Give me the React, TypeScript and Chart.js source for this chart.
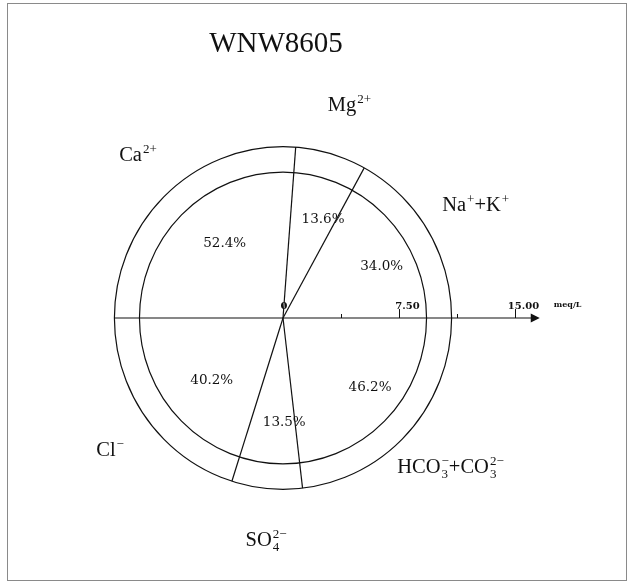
import React, { useEffect, useRef } from 'react';
import { Chart, registerables } from 'chart.js';

Chart.register(...registerables);

// ---------- data ----------
const chartTitle = 'WNW8605';
type Seg = { t?: string; sup?: string; sub?: string };
const cationLabels: Seg[][] = [
  [{ t: 'Ca' }, { sup: '2+' }],
  [{ t: 'Mg' }, { sup: '2+' }],
  [{ t: 'Na' }, { sup: '+' }, { t: '+K' }, { sup: '+' }],
];
const cationPercents = [52.4, 13.6, 34.0];
const anionLabels: Seg[][] = [
  [{ t: 'Cl' }, { sup: '−' }],
  [{ t: 'SO' }, { sub: '4', sup: '2−' }],
  [{ t: 'HCO' }, { sub: '3', sup: '−' }, { t: '+CO' }, { sub: '3', sup: '2−' }],
];
const anionPercents = [40.2, 13.5, 46.2];
const innerTotal = 9.28; // meq/L (inner circle radius)
const outerTotal = 10.9; // meq/L (outer circle radius)
const axisTicks = [3.75, 7.5, 11.25, 15];
const axisTickLabels = ['', '7.50', '', '15.00'];
const axisEnd = 16.6;
const unitLabel = 'meq/L';

// ---------- drawing helpers ----------
const SERIF = "'Liberation Serif', serif";
const SMALL_RATIO = 0.65;

function richWidth(ctx: CanvasRenderingContext2D, segs: Seg[], size: number) {
  const small = Math.round(size * SMALL_RATIO);
  let w = 0;
  for (const s of segs) {
    if (s.t) {
      ctx.font = `${size}px ${SERIF}`;
      w += ctx.measureText(s.t).width;
    } else {
      ctx.font = `${small}px ${SERIF}`;
      w += Math.max(s.sup ? ctx.measureText(s.sup).width : 0, s.sub ? ctx.measureText(s.sub).width : 0) + 1;
    }
  }
  return w;
}

function drawRich(ctx: CanvasRenderingContext2D, segs: Seg[], cx: number, cy: number, size: number) {
  const small = Math.round(size * SMALL_RATIO);
  const W = richWidth(ctx, segs, size);
  let x = cx - W / 2;
  const base = cy + size * 0.33;
  ctx.textAlign = 'left';
  ctx.textBaseline = 'alphabetic';
  for (const s of segs) {
    if (s.t) {
      ctx.font = `${size}px ${SERIF}`;
      ctx.fillText(s.t, x, base);
      x += ctx.measureText(s.t).width;
    } else {
      ctx.font = `${small}px ${SERIF}`;
      let w = 0;
      if (s.sup) {
        ctx.fillText(s.sup, x + 1, base - size * 0.4);
        w = Math.max(w, ctx.measureText(s.sup).width);
      }
      if (s.sub) {
        ctx.fillText(s.sub, x + 1, base + size * 0.24);
        w = Math.max(w, ctx.measureText(s.sub).width);
      }
      x += w + 1;
    }
  }
}

const ionPlugin = {
  id: 'ionCircle',
  afterDraw(chart: any) {
    const ctx: CanvasRenderingContext2D = chart.ctx;
    const xs = chart.scales.x;
    const ys = chart.scales.y;
    const P = (r: number, deg: number) => {
      const a = (deg * Math.PI) / 180;
      return [xs.getPixelForValue(r * Math.cos(a)), ys.getPixelForValue(r * Math.sin(a))];
    };
    const cx = xs.getPixelForValue(0);
    const cy = ys.getPixelForValue(0);
    ctx.save();

    // frame
    ctx.strokeStyle = '#8a8a8a';
    ctx.lineWidth = 1;
    ctx.strokeRect(7.5, 3.5, 619, 577);

    // title
    ctx.fillStyle = '#111';
    ctx.font = `29px ${SERIF}`;
    ctx.textAlign = 'center';
    ctx.textBaseline = 'alphabetic';
    ctx.fillText(chartTitle, 276, 52);

    // circles
    ctx.strokeStyle = '#111';
    ctx.lineWidth = 1.2;
    for (const r of [innerTotal, outerTotal]) {
      const rx = Math.abs(xs.getPixelForValue(r) - cx);
      const ry = Math.abs(ys.getPixelForValue(r) - cy);
      ctx.beginPath();
      ctx.ellipse(cx, cy, rx, ry, 0, 0, Math.PI * 2);
      ctx.stroke();
    }

    // sectors
    const sectors: { mid: number; pct: number; label: Seg[] }[] = [];
    let cum = 0;
    cationPercents.forEach((p, i) => {
      const start = 180 - cum * 1.8;
      cum += p;
      const end = 180 - cum * 1.8;
      sectors.push({ mid: (start + end) / 2, pct: p, label: cationLabels[i] });
      if (i < cationPercents.length - 1) {
        const [x, y] = P(outerTotal, end);
        ctx.beginPath();
        ctx.moveTo(cx, cy);
        ctx.lineTo(x, y);
        ctx.stroke();
      }
    });
    cum = 0;
    anionPercents.forEach((p, i) => {
      const start = 180 + cum * 1.8;
      cum += p;
      const end = 180 + cum * 1.8;
      sectors.push({ mid: (start + end) / 2, pct: p, label: anionLabels[i] });
      if (i < anionPercents.length - 1) {
        const [x, y] = P(outerTotal, end);
        ctx.beginPath();
        ctx.moveTo(cx, cy);
        ctx.lineTo(x, y);
        ctx.stroke();
      }
    });

    // axis
    ctx.lineWidth = 1.2;
    const [ax0] = P(outerTotal, 180);
    const ax1 = xs.getPixelForValue(axisEnd);
    ctx.beginPath();
    ctx.moveTo(ax0, cy);
    ctx.lineTo(ax1 - 6, cy);
    ctx.stroke();
    ctx.fillStyle = '#111';
    ctx.beginPath();
    ctx.moveTo(ax1, cy);
    ctx.lineTo(ax1 - 9, cy - 4.5);
    ctx.lineTo(ax1 - 9, cy + 4.5);
    ctx.closePath();
    ctx.fill();

    ctx.lineWidth = 1;
    ctx.font = `bold 10px 'DejaVu Serif', serif`;
    ctx.textAlign = 'center';
    ctx.textBaseline = 'alphabetic';
    axisTicks.forEach((t, i) => {
      const x = Math.round(xs.getPixelForValue(t)) + 0.5;
      const major = axisTickLabels[i] !== '';
      ctx.beginPath();
      ctx.moveTo(x, cy);
      ctx.lineTo(x, cy - (major ? 9 : 4));
      ctx.stroke();
      if (major) ctx.fillText(axisTickLabels[i], x + 8, cy - 9);
    });
    ctx.fillText('0', cx + 1, cy - 9);
    ctx.font = `bold 8px 'DejaVu Serif', serif`;
    ctx.textAlign = 'left';
    ctx.fillText(unitLabel, xs.getPixelForValue(axisEnd) + 14, cy - 11);

    // percentage labels
    ctx.font = `13.5px 'DejaVu Serif', serif`;
    ctx.textAlign = 'center';
    ctx.textBaseline = 'middle';
    for (const s of sectors) {
      const [x, y] = P(innerTotal * 0.71, s.mid);
      ctx.fillText(`${s.pct.toFixed(1)}%`, x + 11, y + 1);
    }

    // ion labels
    for (const s of sectors) {
      const [x, y] = P(outerTotal * 1.3, s.mid);
      drawRich(ctx, s.label, x + 4, y, 20.5);
    }
    ctx.restore();
  },
};

export default function App() {
  const ref = useRef<HTMLCanvasElement | null>(null);
  useEffect(() => {
    if (!ref.current) return;
    const pxPerUnitX = 15.467;
    const pxPerUnitY = 15.72;
    const cxPix = 283;
    const cyPix = 318;
    const chart = new Chart(ref.current, {
      type: 'scatter',
      data: { datasets: [{ data: [], showLine: false, pointRadius: 0 }] },
      options: {
        animation: false,
        responsive: false,
        maintainAspectRatio: false,
        layout: { padding: 0 },
        plugins: { legend: { display: false }, tooltip: { enabled: false }, title: { display: false } },
        scales: {
          x: { type: 'linear', display: false, min: -cxPix / pxPerUnitX, max: (629 - cxPix) / pxPerUnitX },
          y: { type: 'linear', display: false, min: -(582 - cyPix) / pxPerUnitY, max: cyPix / pxPerUnitY },
        },
      },
      plugins: [ionPlugin],
    });
    return () => chart.destroy();
  }, []);
  return (
    <div style={{ position: 'absolute', left: 0, top: 0, width: 629, height: 582, background: '#fff' }}>
      <canvas ref={ref} width={629} height={582} style={{ display: 'block', width: 629, height: 582 }} />
    </div>
  );
}
